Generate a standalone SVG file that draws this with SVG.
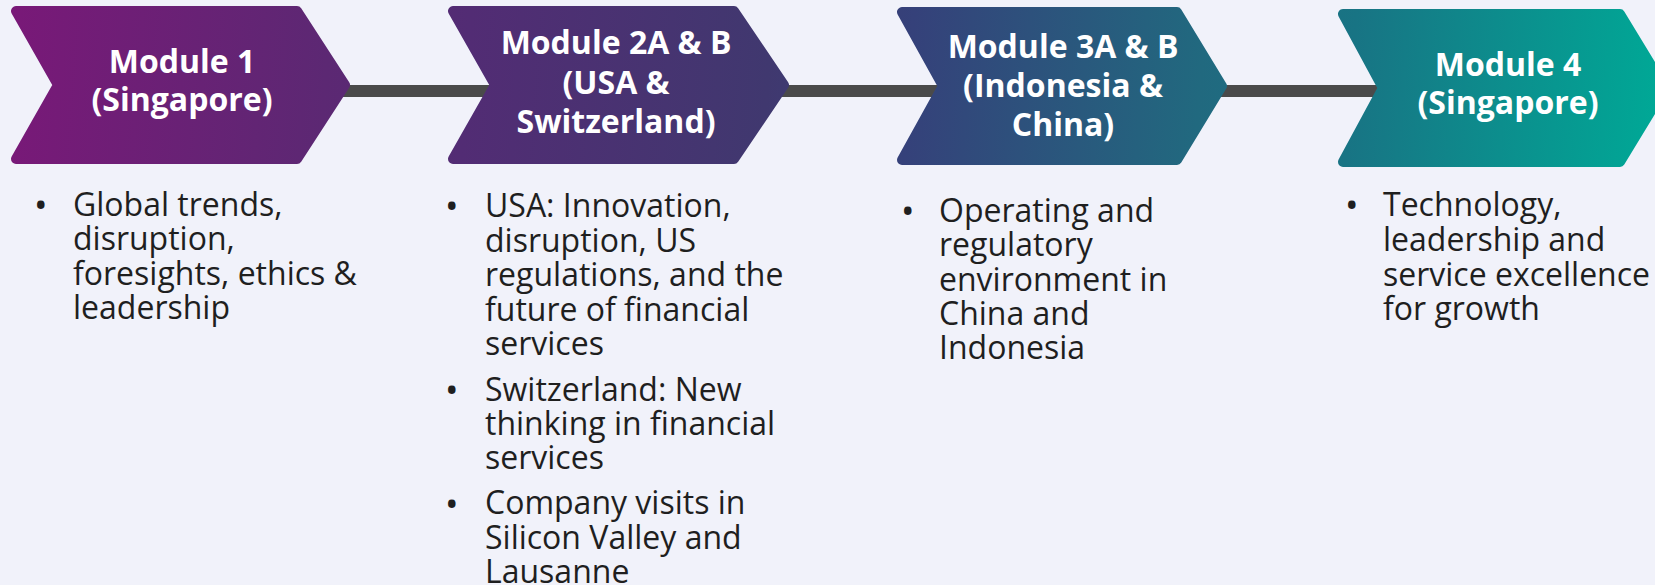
<svg xmlns="http://www.w3.org/2000/svg" width="1655" height="585" viewBox="0 0 1655 585">
<defs>
<linearGradient id="g" gradientUnits="userSpaceOnUse" x1="0" y1="0" x2="1655" y2="120">
<stop offset="0" stop-color="#7a1878"/>
<stop offset="0.199" stop-color="#5c2873"/>
<stop offset="0.284" stop-color="#522c74"/>
<stop offset="0.465" stop-color="#40386f"/>
<stop offset="0.55" stop-color="#35417a"/>
<stop offset="0.725" stop-color="#21697f"/>
<stop offset="0.816" stop-color="#187484"/>
<stop offset="1" stop-color="#00a896"/>
</linearGradient>
<style>
.chev{fill:url(#g);stroke:url(#g);stroke-width:10;stroke-linejoin:round}
.title{font-family:"Open Sans","Noto Sans",sans-serif;font-weight:700;font-size:32px;fill:#ffffff;text-anchor:middle}
.body{font-family:"Open Sans","Noto Sans",sans-serif;font-size:32px;fill:#1f1f1f}
.bul{font-family:"Open Sans","Noto Sans",sans-serif;font-size:36px;fill:#1f1f1f}
.conn{stroke:#4a4a4a;stroke-width:12;fill:none}
</style>
</defs>
<rect width="1655" height="585" fill="#f1f2fa"/>
<g id="connectors">
<line class="conn" x1="335" y1="91" x2="500" y2="91"/>
<line class="conn" x1="775" y1="91" x2="945" y2="91"/>
<line class="conn" x1="1215" y1="91" x2="1385" y2="91"/>
</g>
<g id="module1">
<polygon class="chev" points="16,11 297,11 345,85 297,159 16,159 58,85"/>
<text class="title" x="182" y="73">Module 1</text>
<text class="title" x="182" y="111">(Singapore)</text>
<text class="bul" x="34" y="218">•</text>
<text class="body" x="73" y="216">Global trends,</text>
<text class="body" x="73" y="250">disruption,</text>
<text class="body" x="73" y="285">foresights, ethics &amp;</text>
<text class="body" x="73" y="319">leadership</text>
</g>
<g id="module2">
<polygon class="chev" points="453,11 734,11 784,85 734,159 453,159 495,85"/>
<text class="title" x="616" y="54">Module 2A &amp; B</text>
<text class="title" x="616" y="94">(USA &amp;</text>
<text class="title" x="616" y="133">Switzerland)</text>
<text class="bul" x="445" y="219">•</text>
<text class="body" x="485" y="217">USA: Innovation,</text>
<text class="body" x="485" y="252">disruption, US</text>
<text class="body" x="485" y="286">regulations, and the</text>
<text class="body" x="485" y="321">future of financial</text>
<text class="body" x="485" y="355">services</text>
<text class="bul" x="445" y="403">•</text>
<text class="body" x="485" y="401">Switzerland: New</text>
<text class="body" x="485" y="435">thinking in financial</text>
<text class="body" x="485" y="469">services</text>
<text class="bul" x="445" y="517">•</text>
<text class="body" x="485" y="514">Company visits in</text>
<text class="body" x="485" y="549">Silicon Valley and</text>
<text class="body" x="485" y="583">Lausanne</text>
</g>
<g id="module3">
<polygon class="chev" points="902,12 1177,12 1222,86 1177,160 902,160 943,86"/>
<text class="title" x="1063" y="58">Module 3A &amp; B</text>
<text class="title" x="1063" y="97">(Indonesia &amp;</text>
<text class="title" x="1063" y="136">China)</text>
<text class="bul" x="901" y="224">•</text>
<text class="body" x="939" y="222">Operating and</text>
<text class="body" x="939" y="256">regulatory</text>
<text class="body" x="939" y="291">environment in</text>
<text class="body" x="939" y="325">China and</text>
<text class="body" x="939" y="359">Indonesia</text>
</g>
<g id="module4">
<polygon class="chev" points="1343,14 1620,14 1665,88 1620,162 1343,162 1383,88"/>
<text class="title" x="1508" y="76">Module 4</text>
<text class="title" x="1508" y="114">(Singapore)</text>
<text class="bul" x="1345" y="218">•</text>
<text class="body" x="1383" y="216">Technology,</text>
<text class="body" x="1383" y="251">leadership and</text>
<text class="body" x="1383" y="286">service excellence</text>
<text class="body" x="1383" y="320">for growth</text>
</g>
</svg>
